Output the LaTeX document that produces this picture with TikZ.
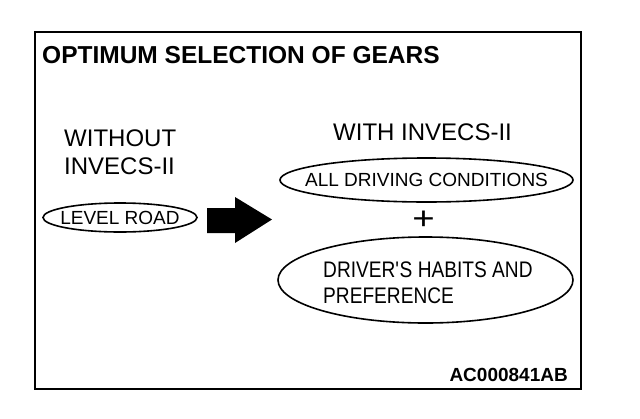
\documentclass[tikz,border=0pt]{standalone}
\usepackage{fontspec}
\setmainfont{Liberation Sans}
\newfontfamily\tallfont[FakeStretch=0.85]{Liberation Sans}
\usepackage{tikz}
\usetikzlibrary{shapes.geometric}
\newcommand{\fsz}[1]{\fontsize{#1}{#1}\selectfont}

\begin{document}
\begin{tikzpicture}[x=1pt,y=-1pt,
  oval/.style={draw,ellipse,line width=1.6pt,inner sep=0pt},
  txt/.style={inner sep=0pt}]
\useasboundingbox (0,0) rectangle (640,418);
\draw[line width=2.2pt] (35,32) rectangle (581,389);
\node[txt,anchor=base west] (title) at (42,63) {\fsz{24.5}\bfseries OPTIMUM SELECTION OF GEARS};
% base of a two-line node is the last line
\node[txt,anchor=base west,align=left,font=\fontsize{24}{28}\selectfont] (without) at (64,174) {WITHOUT\\INVECS-II};
\node[oval,minimum width=154pt,minimum height=29pt] (level) at (120,217.5) {};
\node[txt] (leveltxt) at (level) {\fsz{19}LEVEL ROAD};
\fill (207,208) -- (235,208) -- (235,197) -- (272,219.5) -- (235,243) -- (235,233) -- (207,233) -- cycle;
\node[txt,anchor=base west] (with) at (333,140) {\fsz{24}WITH INVECS-II};
\node[oval,minimum width=293pt,minimum height=44pt] (all) at (426.5,180) {};
\node[txt] (alltxt) at (all) {\fsz{19}ALL DRIVING CONDITIONS};
\node[txt] (plus) at (423.5,220.5) {\fsz{32}\scalebox{1.2}[1]{+}};
\node[oval,minimum width=295pt,minimum height=86pt] (habits) at (425.5,280) {};
\node[txt,anchor=base west,align=left,font=\tallfont\fontsize{22.5}{26}\selectfont] (habitstxt) at (323,303)
  {DRIVER\textquotesingle S HABITS AND\\PREFERENCE};
\node[txt,anchor=base east] (code) at (568,381) {\fsz{19}\bfseries AC000841AB};
\end{tikzpicture}
\end{document}
